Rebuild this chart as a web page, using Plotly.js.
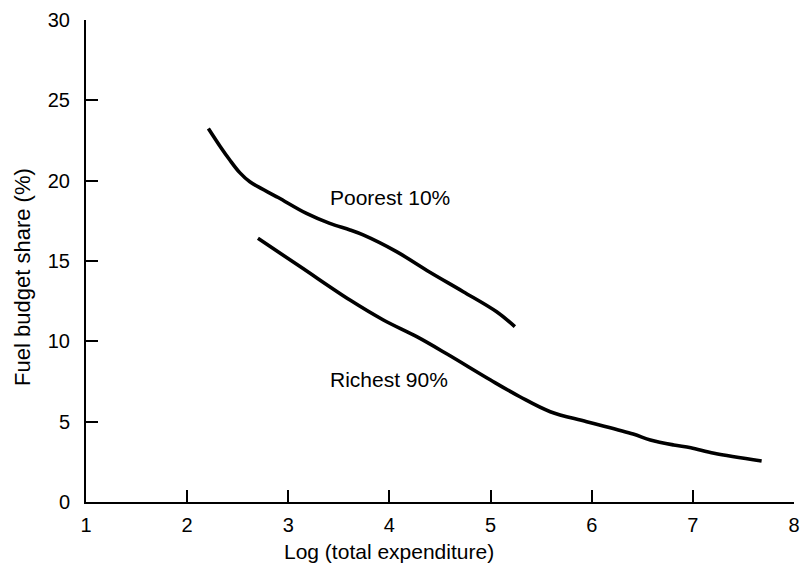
<!DOCTYPE html>
<html>
<head>
<meta charset="utf-8">
<script src="https://cdn.plot.ly/plotly-3.0.1.min.js"></script>
<style>html,body{margin:0;padding:0;background:#fff;}#chart{width:800px;height:569px;}</style>
</head>
<body>
<div id="chart"></div>
<script>
var poorestX = [2.21, 2.33, 2.42, 2.52, 2.62, 2.90, 3.18, 3.41, 3.61, 3.74, 4.07, 4.40, 4.73, 5.06, 5.24];
var poorestY = [23.25, 22.1, 21.3, 20.5, 19.93, 18.95, 17.96, 17.34, 16.93, 16.62, 15.58, 14.30, 13.09, 11.84, 10.91];
var richestX = [2.70, 3.12, 3.61, 3.94, 4.27, 4.57, 5.00, 5.29, 5.59, 5.95, 6.41, 6.58, 6.81, 6.98, 7.21, 7.68];
var richestY = [16.41, 14.64, 12.57, 11.33, 10.29, 9.21, 7.59, 6.55, 5.62, 5.00, 4.23, 3.86, 3.55, 3.38, 3.03, 2.55];
var xTicks = [1, 2, 3, 4, 5, 6, 7, 8];
var yTicks = [0, 5, 10, 15, 20, 25, 30];
var seriesLabels = ["Poorest 10%", "Richest 90%"];
var labelX = [4.01, 4.0];
var labelY = [18.98, 7.64];
var xTitle = "Log (total expenditure)";
var yTitle = "Fuel budget share (%)";

var font = "Liberation Sans, Arial, Helvetica, sans-serif";
var lineStyle = {color: "#000", width: 3.6, shape: "spline", smoothing: 1};

var traces = [
  {x: poorestX, y: poorestY, mode: "lines", line: lineStyle, name: seriesLabels[0], hoverinfo: "none"},
  {x: richestX, y: richestY, mode: "lines", line: lineStyle, name: seriesLabels[1], hoverinfo: "none"}
];

var annotations = seriesLabels.map(function (t, i) {
  return {x: labelX[i], y: labelY[i], xref: "x", yref: "y", text: t, showarrow: false,
          xanchor: "center", yanchor: "middle", font: {family: font, size: 21, color: "#000"}};
});
annotations.push({x: 4.0, y: -0.102, xref: "x", yref: "paper", text: xTitle, showarrow: false,
  xanchor: "center", yanchor: "middle", font: {family: font, size: 21, color: "#000"}});
annotations.push({x: -0.089, y: 0.467, xref: "paper", yref: "paper", text: yTitle, showarrow: false,
  textangle: -90, xanchor: "center", yanchor: "middle", font: {family: font, size: 22, color: "#000"}});

var layout = {
  width: 800, height: 569,
  margin: {l: 86, r: 6, t: 20, b: 67, pad: 0},
  paper_bgcolor: "#fff", plot_bgcolor: "#fff",
  showlegend: false,
  font: {family: font, size: 20, color: "#000"},
  xaxis: {range: [1, 8], tickvals: xTicks, ticktext: xTicks.map(String), showgrid: false, zeroline: false,
          showline: true, linecolor: "#000", linewidth: 2, ticks: "inside", ticklen: 12, tickwidth: 2,
          tickcolor: "#000", ticklabelstandoff: 4, tickfont: {family: font, size: 20, color: "#000"}},
  yaxis: {range: [0, 30], tickvals: yTicks, ticktext: yTicks.map(String), showgrid: false, zeroline: false,
          showline: true, linecolor: "#000", linewidth: 2, ticks: "inside", ticklen: 12, tickwidth: 2,
          tickcolor: "#000", ticklabelstandoff: 10, tickfont: {family: font, size: 20, color: "#000"}},
  annotations: annotations
};

Plotly.newPlot("chart", traces, layout, {displayModeBar: false, staticPlot: true});
</script>
</body>
</html>
